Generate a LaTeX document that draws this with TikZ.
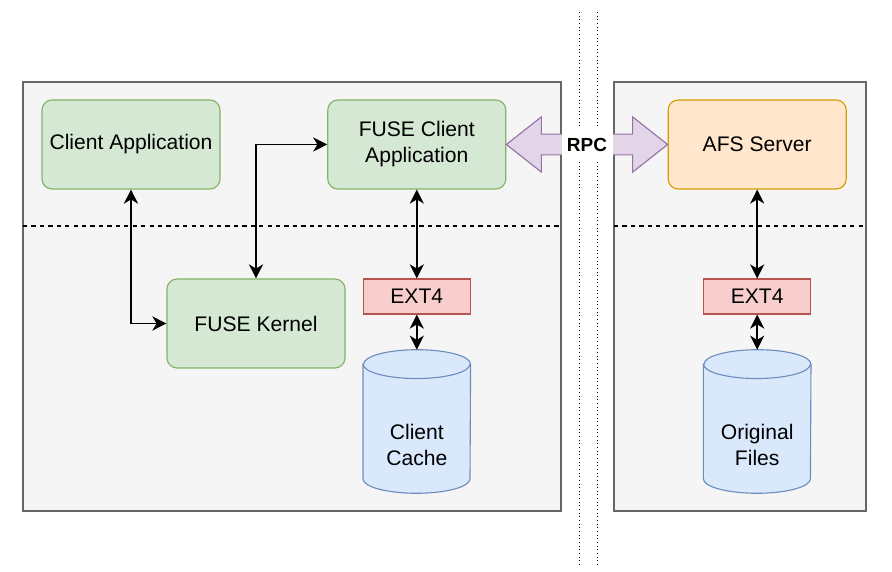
\documentclass[tikz,border=0pt]{standalone}
\usepackage{fontspec}
\setmainfont{Liberation Sans}
\usetikzlibrary{arrows.meta,calc}

\definecolor{boxgray}{HTML}{F5F5F5}
\definecolor{linegray}{HTML}{666666}
\definecolor{appfill}{HTML}{D5E8D4}
\definecolor{appline}{HTML}{82B366}
\definecolor{srvfill}{HTML}{FFE6CC}
\definecolor{srvline}{HTML}{D79B00}
\definecolor{fsfill}{HTML}{F8CECC}
\definecolor{fsline}{HTML}{B85450}
\definecolor{dbfill}{HTML}{DAE8FC}
\definecolor{dbline}{HTML}{6C8EBF}
\definecolor{rpcfill}{HTML}{E1D5E7}
\definecolor{rpcline}{HTML}{9673A6}

\tikzset{
  every node/.style={font=\fontsize{15}{18.5}\selectfont, align=center},
  machine/.style={fill=boxgray, draw=linegray, line width=0.9pt},
  appbox/.style={draw=appline, fill=appfill, rounded corners=0.25cm, line width=0.8pt,
    minimum width=4.45cm, minimum height=2.225cm, inner sep=0pt},
  srvbox/.style={appbox, draw=srvline, fill=srvfill},
  fsbox/.style={draw=fsline, fill=fsfill, line width=0.8pt,
    minimum width=2.675cm, minimum height=0.875cm, inner sep=0pt},
  storebox/.style={minimum width=2.675cm, minimum height=3.575cm, inner sep=0pt},
  storeline/.style={draw=dbline, fill=dbfill, line width=0.8pt},
  link/.style={{Stealth[length=10pt,width=10pt,inset=3pt]}-{Stealth[length=10pt,width=10pt,inset=3pt]}, line width=1.3pt}
}

% Cylinder drawn round a named box
\newcommand{\drawstore}[1]{%
  \draw[storeline] ($(#1.north west)+(0,-0.36)$) -- ($(#1.south west)+(0,0.36)$)
    arc[start angle=180, end angle=360, x radius=1.3375cm, y radius=0.36cm]
    -- ($(#1.north east)+(0,-0.36)$)
    arc[start angle=0, end angle=180, x radius=1.3375cm, y radius=0.36cm] -- cycle;
  \draw[storeline, fill=none] ($(#1.north west)+(0,-0.36)$)
    arc[start angle=180, end angle=360, x radius=1.3375cm, y radius=0.36cm];}

\begin{document}
\begin{tikzpicture}

    % Fix the page to the size of the picture
    \useasboundingbox (0,0) rectangle (22.3,-14.3);

    % Client machine and server machine
    \draw[machine] (0.575,-2.05) rectangle (14.025,-12.775);
    \draw[machine] (15.35,-2.05) rectangle (21.65,-12.775);

    % User space / kernel space separators
    \draw[dashed, dash pattern=on 3pt off 3pt, line width=0.8pt] (0.575,-5.65) -- (14.025,-5.65);
    \draw[dashed, dash pattern=on 3pt off 3pt, line width=0.8pt] (15.35,-5.65) -- (21.65,-5.65);

    % Network boundary
    \draw[dotted, line width=0.6pt] (14.475,-0.3) -- (14.475,-14.125);
    \draw[dotted, line width=0.6pt] (14.925,-0.3) -- (14.925,-14.125);

    % Client side nodes
    \node[appbox] (capp) at (3.275,-3.6125) {Client Application};
    \node[appbox] (fcapp) at (10.42,-3.6125) {FUSE Client\\Application};
    \node[appbox] (fkern) at (6.4,-8.0875) {FUSE Kernel};
    \node[fsbox] (extL) at (10.42,-7.4125) {EXT4};
    \node[storebox] (cacheL) at (10.42,-10.5375) {};
    \drawstore{cacheL}
    \node (cacheLtext) at (10.42,-11.125) {Client\\Cache};

    % Server side nodes
    \node[srvbox] (afs) at (18.93,-3.6125) {AFS Server};
    \node[fsbox] (extR) at (18.93,-7.4125) {EXT4};
    \node[storebox] (filesR) at (18.93,-10.5375) {};
    \drawstore{filesR}
    \node (filesRtext) at (18.93,-11.125) {Original\\Files};

    % Connectors on the client
    \draw[link] (capp.south) |- (fkern.west);
    \draw[link] (fkern.north) |- (fcapp.west);
    \draw[link] (fcapp.south) -- (extL.north);
    \draw[link] (extL.south) -- (cacheL.north);

    % Connectors on the server
    \draw[link] (afs.south) -- (extR.north);
    \draw[link] (extR.south) -- (filesR.north);

    % Big double arrow for the RPC link
    \draw[fill=rpcfill, draw=rpcline, line width=0.8pt]
      (fcapp.east) -- ($(fcapp.east)+(0.875,0.69)$) -- ($(fcapp.east)+(0.875,0.26)$)
      -- ($(afs.west)+(-0.875,0.26)$) -- ($(afs.west)+(-0.875,0.69)$) -- (afs.west)
      -- ($(afs.west)+(-0.875,-0.69)$) -- ($(afs.west)+(-0.875,-0.26)$)
      -- ($(fcapp.east)+(0.875,-0.26)$) -- ($(fcapp.east)+(0.875,-0.69)$) -- cycle;
    \node[fill=white, minimum width=1.275cm, minimum height=0.9cm, inner sep=0pt,
      font=\fontsize{13.5}{16}\selectfont\bfseries] (rpc) at ($(fcapp.east)!0.5!(afs.west)$) {RPC};

\end{tikzpicture}
\end{document}
